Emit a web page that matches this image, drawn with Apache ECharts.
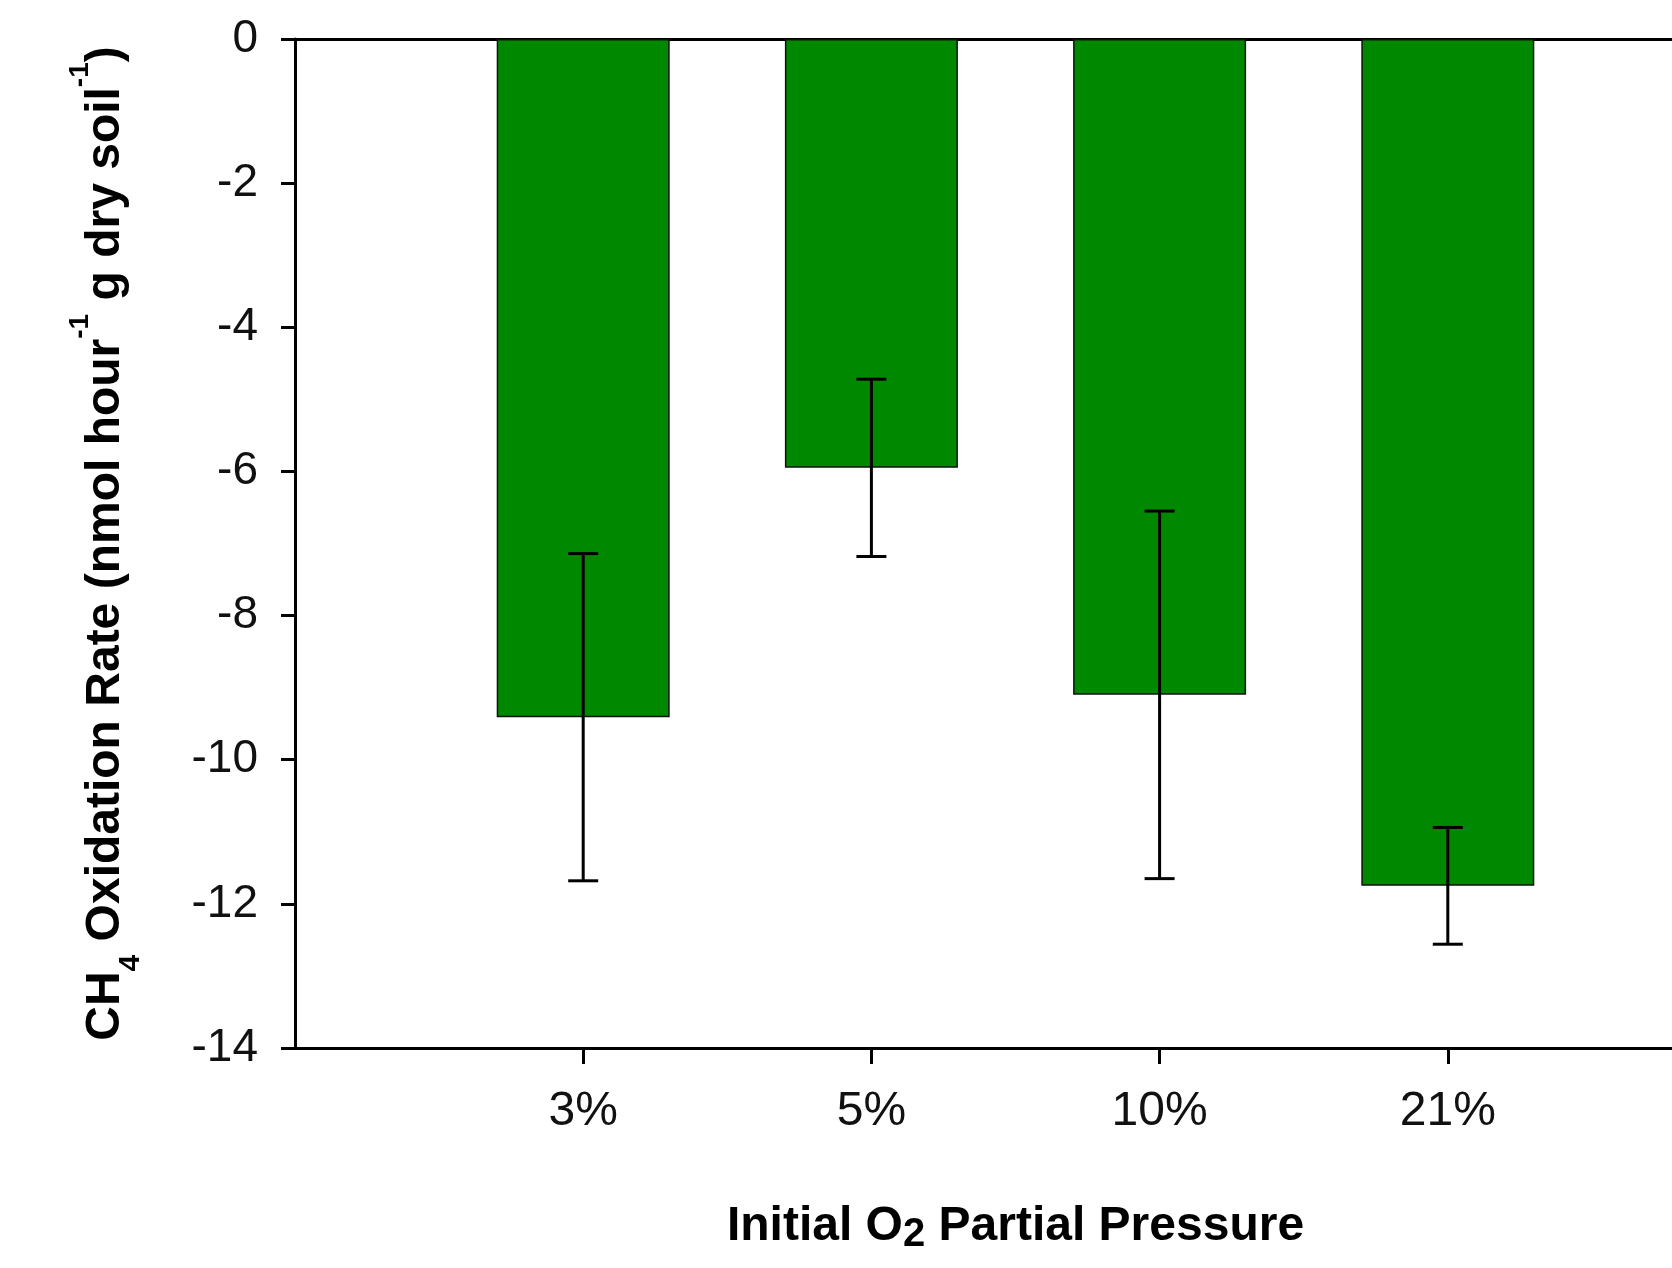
<!DOCTYPE html>
<html>
<head>
<meta charset="utf-8">
<title>CH4 oxidation rate</title>
<script src="https://cdn.jsdelivr.net/npm/echarts@6/dist/echarts.min.js"></script>
<style>
  html, body { margin: 0; padding: 0; background: #fff; }
  #chart { width: 1672px; height: 1268px; }
</style>
</head>
<body>
<div id="chart"></div>
<script>
// values
var categories = ["3%", "5%", "10%", "21%"];
var rates = [-9.41, -5.95, -9.10, -11.75];
var errors = [2.27, 1.23, 2.55, 0.81];
var yTicks = [0, -2, -4, -6, -8, -10, -12, -14];

var FONT = "'Liberation Sans', Arial, sans-serif";

// one empty slot on each side so the bars sit where the original puts them
var axisData = [""].concat(categories, [""]);
var barData = ["-"].concat(rates, ["-"]);
var errData = [];
for (var i = 0; i < categories.length; i++) {
  errData.push([categories[i], rates[i] + errors[i], rates[i] - errors[i]]);
}

var myChart = echarts.init(document.getElementById("chart"));

myChart.setOption({
  animation: false,
  backgroundColor: "#fff",
  // plot runs past the right edge of the picture, like the cropped original
  grid: { left: 295, top: 39, bottom: 220, width: 1441, outerBoundsMode: "none", containLabel: false },
  xAxis: [{
    type: "category",
    data: axisData,
    boundaryGap: false,
    position: "bottom",
    axisLine: { onZero: false, lineStyle: { color: "#000", width: 3 } },
    axisTick: {
      length: 16,
      lineStyle: { color: "#000", width: 3 },
      interval: function (index, value) { return value !== ""; }
    },
    axisLabel: {
      interval: 0,
      margin: 40,
      color: "#111",
      fontFamily: FONT,
      fontSize: 48
    },
    name: "{b|Initial O}{sub|2}{b| Partial Pressure}",
    nameLocation: "middle",
    nameGap: 151,
    nameTextStyle: {
      rich: {
        b: { fontFamily: FONT, fontSize: 48, fontWeight: "bold", color: "#000", lineHeight: 56 },
        sub: { fontFamily: FONT, fontSize: 40, fontWeight: "bold", color: "#000", lineHeight: 32, verticalAlign: "bottom" }
      }
    }
  }, {
    type: "category",
    data: axisData,
    boundaryGap: false,
    position: "top",
    axisLine: { lineStyle: { color: "#000", width: 3 } },
    axisTick: { show: false },
    axisLabel: { show: false }
  }],
  yAxis: {
    type: "value",
    min: -14,
    max: 0,
    interval: 2,
    splitLine: { show: false },
    axisLine: { show: true, lineStyle: { color: "#000", width: 3 } },
    axisTick: { show: true, length: 14, lineStyle: { color: "#000", width: 3 } },
    axisLabel: {
      margin: 37,
      color: "#111",
      fontFamily: FONT,
      fontSize: 46,
      formatter: function (v) { return yTicks.indexOf(v) >= 0 ? String(v) : ""; }
    },
    name: "{b|CH}{sub|4}{b| Oxidation Rate (nmol hour}{sup|-1}{b| g dry soil}{sup|-1}{b|)}",
    nameLocation: "middle",
    nameRotate: 90,
    nameGap: 149,
    nameTextStyle: {
      rich: {
        b: { fontFamily: FONT, fontSize: 48, fontWeight: "bold", color: "#000", lineHeight: 80 },
        sub: { fontFamily: FONT, fontSize: 30, fontWeight: "bold", color: "#000", lineHeight: 38, verticalAlign: "bottom" },
        sup: { fontFamily: FONT, fontSize: 28, fontWeight: "bold", color: "#000", lineHeight: 25, verticalAlign: "top" }
      }
    }
  },
  series: [{
    type: "bar",
    data: barData,
    barWidth: 173,
    itemStyle: { color: "#008800", borderColor: "#111", borderWidth: 1.5 }
  }, {
    type: "custom",
    z: 5,
    data: errData,
    renderItem: function (params, api) {
      var top = api.coord([api.value(0), api.value(1)]);
      var bot = api.coord([api.value(0), api.value(2)]);
      var x = top[0];
      var half = 15;
      var style = { stroke: "#000", lineWidth: 3 };
      return {
        type: "group",
        children: [
          { type: "line", shape: { x1: x, y1: top[1], x2: x, y2: bot[1] }, style: style },
          { type: "line", shape: { x1: x - half, y1: top[1], x2: x + half, y2: top[1] }, style: style },
          { type: "line", shape: { x1: x - half, y1: bot[1], x2: x + half, y2: bot[1] }, style: style }
        ]
      };
    }
  }]
});

window.addEventListener("resize", function () {
  myChart.resize();
}, false);
</script>
</body>
</html>
